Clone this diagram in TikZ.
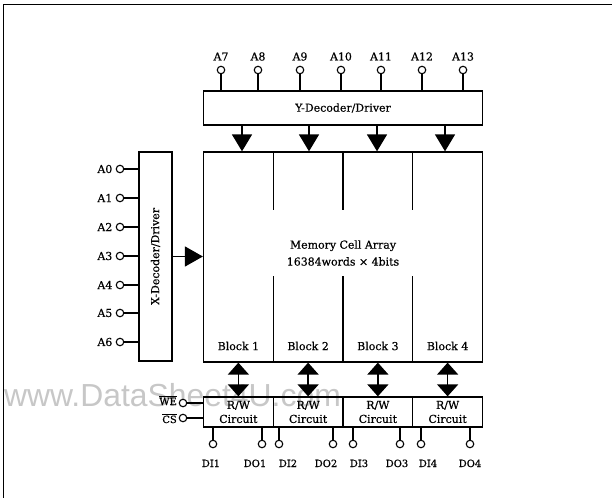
\documentclass[tikz,border=0pt]{standalone}
\usepackage{fontspec}
\setmainfont{DejaVu Serif}[FakeBold=0.5]
\newfontfamily\wmfont{Liberation Sans}
\usetikzlibrary{arrows.meta}
\begin{document}
\begin{tikzpicture}[x=1bp,y=-1bp,
  lab/.style={font=\fontsize{11}{13}\selectfont, inner sep=0pt},
  small/.style={font=\fontsize{10}{12}\selectfont, inner sep=0pt},
  box/.style={draw, line width=1.3bp, inner sep=0pt, font=\fontsize{11}{14}\selectfont, align=center},
  pin/.style={circle, draw, fill=white, line width=1.1bp, inner sep=0pt, minimum size=7.5bp},
  wire/.style={line width=1.1bp},
  bus/.style={line width=1.6bp, -{Triangle[length=17bp,width=20bp]}},
  bibus/.style={line width=1.6bp, {Triangle[length=12bp,width=21bp]}-{Triangle[length=12bp,width=21bp]}},
]
\useasboundingbox (0,0) rectangle (612,498);
% frame
\draw[line width=1bp] (3,498) -- (3,5) -- (612,5);
% watermark
\node[anchor=base west, inner sep=0pt, text=black!22, font=\wmfont\fontsize{32}{36}\selectfont] (wm) at (4,406) {www.DataSheet4U.com};

% main boxes
\node[box, minimum width=279bp, minimum height=34bp] (ydec) at (343,108) {Y-Decoder/Driver};
\node[box, minimum width=279bp, minimum height=210bp] (arr) at (343,257) {};
\node[lab, align=center, font=\fontsize{11}{17}\selectfont] (arrtxt) at (343,253) {Memory Cell Array\\16384words × 4bits};
\node[box, minimum width=33bp, minimum height=209bp] (xdec) at (155.5,256.5) {};
\node[lab, rotate=90] (xdectxt) at (xdec.center) {X-Decoder/Driver};

% block dividers
\foreach \x in {273.25,343,412.75} {
  \draw[wire] (\x,152) -- (\x,210);
  \draw[wire] (\x,276) -- (\x,362);
}
% block labels
\node[lab] (blk1) at (238.4,346) {Block 1};
\node[lab] (blk2) at (308.1,346) {Block 2};
\node[lab] (blk3) at (377.9,346) {Block 3};
\node[lab] (blk4) at (447.6,346) {Block 4};

% R/W circuits
\node[box, minimum width=69.75bp, minimum height=30bp] (rw1) at (238.375,412) {R/W\\Circuit};
\node[box, minimum width=69.75bp, minimum height=30bp] (rw2) at (308.125,412) {R/W\\Circuit};
\node[box, minimum width=69.75bp, minimum height=30bp] (rw3) at (377.875,412) {R/W\\Circuit};
\node[box, minimum width=69.75bp, minimum height=30bp] (rw4) at (447.625,412) {R/W\\Circuit};

% Y decoder -> array
\foreach \i/\x in {1/242,2/309,3/377,4/445} {
  \coordinate (yd\i) at (\x,125);
  \draw[bus] (yd\i) -- (yd\i |- arr.north);
}
% X decoder -> array
\draw[line width=1.6bp, -{Triangle[length=18bp,width=20bp]}] (xdec.east) -- (xdec.east -| arr.west);
% array <-> R/W
\foreach \i in {1,2,3,4} {
  \draw[bibus] (rw\i.north |- arr.south) -- (rw\i.north);
}

% A7..A13
\foreach \n/\x in {7/221,8/258,9/300,10/341,11/381,12/422,13/463} {
  \node[pin] (a\n) at (\x,70) {};
  \node[lab, anchor=base] (la\n) at (\x,60.5) {A\n};
  \draw[wire] (a\n) -- (a\n |- ydec.north);
}
% A0..A6
\foreach \n/\y in {0/169,1/198,2/227,3/256,4/285,5/313,6/342} {
  \node[pin] (a\n) at (120,\y) {};
  \node[lab, anchor=east] (la\n) at (112.5,\y) {A\n};
  \draw[wire] (a\n) -- (a\n -| xdec.west);
}
% WE, CS
\node[pin] (we) at (183,403) {};
\node[pin] (cs) at (183,418) {};
\node[small, anchor=base east] (lwe) at (177,405) {$\overline{\hbox{WE}}$};
\node[small, anchor=base east] (lcs) at (177,423) {$\overline{\hbox{CS}}$};
\draw[wire] (we) -- (we -| rw1.west);
\draw[wire] (cs) -- (cs -| rw1.west);

% DI/DO
\foreach \nm/\x/\lx/\r in {DI1/213/211/1,DO1/262/255/1,DI2/279/288/2,DO2/333/326/2,DI3/353/359/3,DO3/400/397/3,DI4/421/428/4,DO4/470/470/4} {
  \node[pin] (p\nm) at (\x,444) {};
  \node[small, anchor=base] (l\nm) at (\lx,467) {\nm};
  \draw[wire] (p\nm) -- (p\nm |- rw\r.south);
}
\end{tikzpicture}
\end{document}
